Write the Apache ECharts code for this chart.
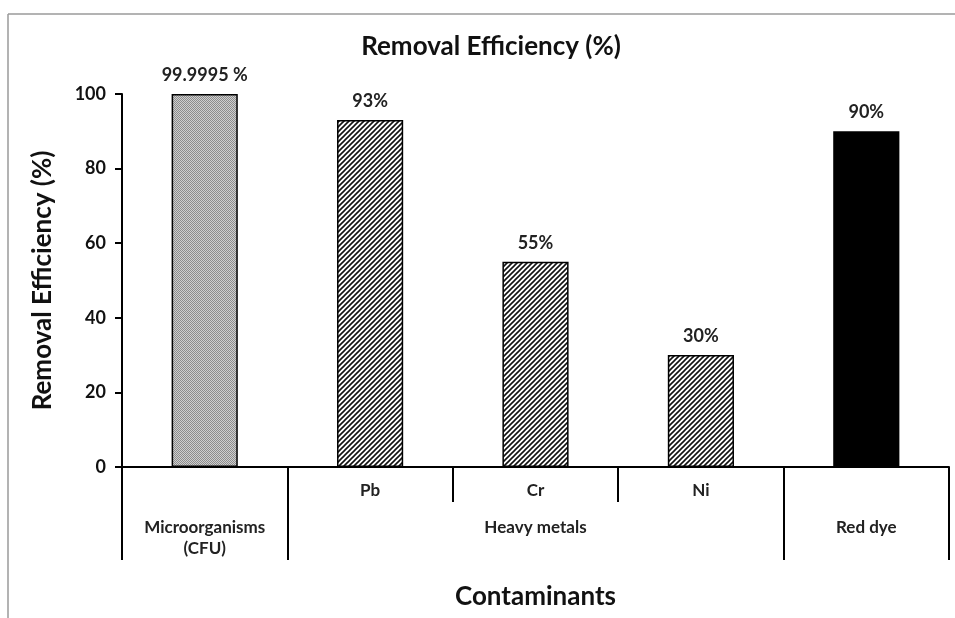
<!DOCTYPE html>
<html><head><meta charset="utf-8">
<script src="https://cdn.jsdelivr.net/npm/echarts@6/dist/echarts.min.js"></script>
<style>html,body{margin:0;padding:0;background:#fff}#c{width:955px;height:618px}</style>
</head><body><div id="c"></div>
<script>
const subCategories = ['', 'Pb', 'Cr', 'Ni', ''];
const values = [99.9995, 93, 55, 30, 90];
const valueLabels = ['99.9995 %', '93%', '55%', '30%', '90%'];
const groups = ['Microorganisms\n(CFU)', 'Heavy metals', 'Red dye'];
const groupStarts = [0, 1, 4];
const groupEnds = [1, 4, 5];
const barStyles = ['dots', 'hatch', 'hatch', 'hatch', 'solid'];

function dotsPattern() {
  const c = document.createElement('canvas'); c.width = 2; c.height = 2;
  const g = c.getContext('2d');
  g.fillStyle = '#cfcfcf'; g.fillRect(0, 0, 2, 2);
  g.fillStyle = '#8c8c8c';
  g.fillRect(0, 0, 1, 1); g.fillRect(1, 1, 1, 1);
  return c;
}
function hatchPattern() {
  const s = 5;
  const c = document.createElement('canvas'); c.width = s; c.height = s;
  const g = c.getContext('2d');
  g.fillStyle = '#fff'; g.fillRect(0, 0, s, s);
  g.strokeStyle = '#111'; g.lineWidth = 1.6;
  g.beginPath();
  g.moveTo(-1, s + 1); g.lineTo(s + 1, -1);
  g.moveTo(-1, 1); g.lineTo(1, -1);
  g.moveTo(s - 1, s + 1); g.lineTo(s + 1, s - 1);
  g.stroke();
  return c;
}
const fills = {
  dots: { image: dotsPattern(), repeat: 'repeat' },
  hatch: { image: hatchPattern(), repeat: 'repeat' },
  solid: '#000'
};

const groupCenters = groupStarts.map((s, i) => (s + groupEnds[i]) / 2);
const boundaries = [...new Set([...groupStarts, ...groupEnds])];
const F = 'Lato, "Open Sans", sans-serif';

const chart = echarts.init(document.getElementById('c'), null, { renderer: 'canvas' });
chart.setOption({
  animation: false,
  backgroundColor: '#fff',
  title: {
    text: 'Removal Efficiency (%)', left: 486, top: 29, textAlign: 'center',
    textStyle: { fontFamily: F, fontWeight: 'bold', fontSize: 26, color: '#111' }
  },
  graphic: [
    { type: 'line', shape: { x1: 8, y1: 14, x2: 955, y2: 14 }, style: { stroke: '#9a9a9a', lineWidth: 1.5 } },
    { type: 'line', shape: { x1: 8, y1: 14, x2: 8, y2: 618 }, style: { stroke: '#9a9a9a', lineWidth: 1.5 } }
  ],
  grid: { left: 122, right: 6, top: 94, bottom: 151, containLabel: false },
  xAxis: [
    {
      type: 'category', data: subCategories, position: 'bottom',
      axisLine: { show: true, lineStyle: { color: '#000', width: 2 } },
      axisTick: { show: true, alignWithLabel: false, length: 35, lineStyle: { color: '#000', width: 2 } },
      axisLabel: { margin: 15, fontFamily: F, fontWeight: 'bold', fontSize: 17, color: '#222' },
      name: 'Contaminants', nameLocation: 'middle', nameGap: 117,
      nameTextStyle: { fontFamily: F, fontWeight: 'bold', fontSize: 26, color: '#111' },
      splitLine: { show: false }
    },
    {
      type: 'value', min: 0, max: subCategories.length, position: 'bottom',
      axisLine: { show: false },
      axisTick: { show: true, customValues: boundaries, length: 93, lineStyle: { color: '#000', width: 2 } },
      axisLabel: {
        customValues: groupCenters, margin: 50, lineHeight: 21,
        fontFamily: F, fontWeight: 'bold', fontSize: 17, color: '#222',
        formatter: v => { const i = groupCenters.findIndex(c => Math.abs(c - v) < 1e-6); return i >= 0 ? groups[i] : ''; }
      },
      splitLine: { show: false }
    }
  ],
  yAxis: {
    type: 'value', min: 0, max: 100, interval: 20,
    axisLine: { show: true, lineStyle: { color: '#000', width: 2 } },
    axisTick: { show: true, length: 7, lineStyle: { color: '#000', width: 2 } },
    axisLabel: { margin: 16, fontFamily: F, fontWeight: 'bold', fontSize: 18, color: '#111' },
    splitLine: { show: false },
    name: 'Removal Efficiency (%)', nameLocation: 'middle', nameGap: 66, nameRotate: 90,
    nameTextStyle: { fontFamily: F, fontWeight: 'bold', fontSize: 26, color: '#111' }
  },
  series: [{
    type: 'bar', xAxisIndex: 0, yAxisIndex: 0, barWidth: '40%',
    data: values.map((v, i) => ({
      value: v,
      itemStyle: { color: fills[barStyles[i]], borderColor: '#000', borderWidth: 1.5 }
    })),
    label: {
      show: true, position: 'top', distance: 10,
      fontFamily: F, fontWeight: 'bold', fontSize: 18, color: '#222',
      formatter: p => valueLabels[p.dataIndex]
    }
  }]
});
</script></body></html>
